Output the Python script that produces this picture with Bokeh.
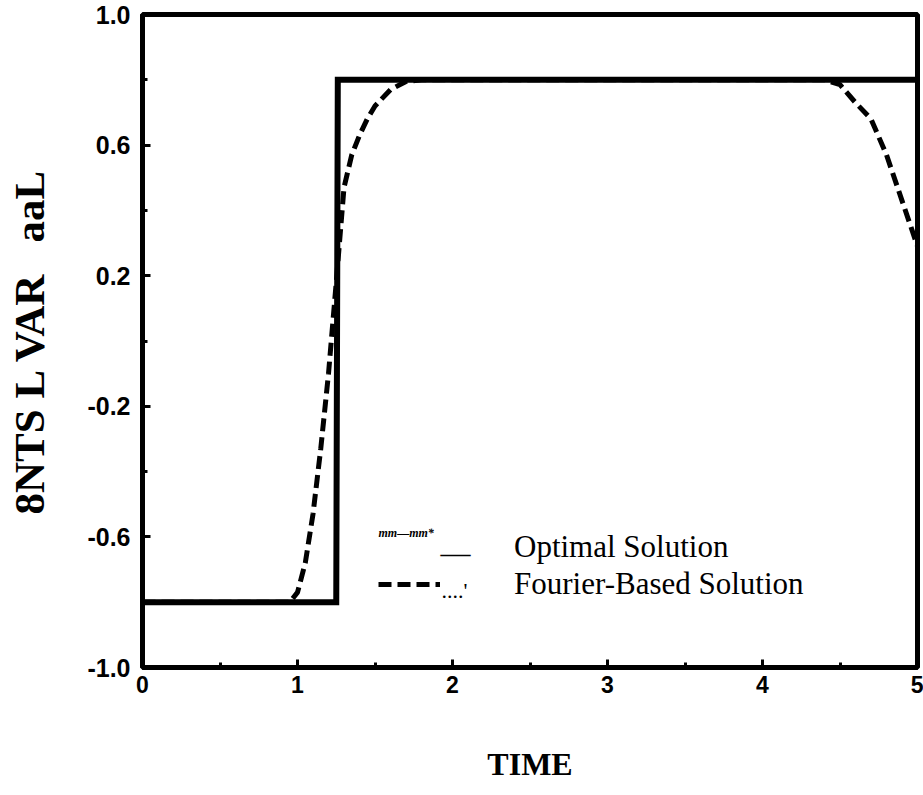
from bokeh.plotting import figure
from bokeh.models import Range1d, FixedTicker, Label, Legend, LegendItem
from bokeh.embed import file_html
from bokeh.resources import INLINE

# ---- data ----
time_optimal = [0.0, 1.25, 1.26, 5.0]
u_optimal = [-0.8, -0.8, 0.8, 0.8]

time_fourier = [0.0, 0.5, 0.95, 1.0, 1.05, 1.1, 1.15, 1.2, 1.25, 1.3, 1.35, 1.4, 1.45, 1.5,
                1.6, 1.7, 1.8, 2.0, 3.0, 4.0, 4.4, 4.5, 4.6, 4.7, 4.8, 4.9, 5.0]
u_fourier = [-0.8, -0.8, -0.8, -0.77, -0.68, -0.53, -0.33, -0.1, 0.18, 0.47, 0.57, 0.63, 0.68, 0.72,
             0.77, 0.795, 0.8, 0.8, 0.8, 0.8, 0.8, 0.785, 0.73, 0.68, 0.57, 0.43, 0.29]

x_ticks = [0, 1, 2, 3, 4, 5]
x_minor = [0.5, 1.5, 2.5, 3.5, 4.5]
y_ticks = [-1.0, -0.6, -0.2, 0.2, 0.6, 1.0]
y_tick_labels = ["-1.0", "-0.6", "-0.2", "0.2", "0.6", "1.0"]
y_minor = [-0.8, -0.4, 0.0, 0.4, 0.8]

series_names = ["Optimal Solution", "Fourier-Based Solution"]
x_title = "TIME"
y_title = "8NTS L VAR\u00a0\u00a0\u00a0aaL"

# ---- figure ----
W, H = 923, 795
BL, BR, BT, BB = 142, 6, 14, 128
p = figure(width=W, height=H, x_range=Range1d(0, 5), y_range=Range1d(-1, 1),
           output_backend="svg", toolbar_location=None,
           min_border_left=BL, min_border_right=BR, min_border_top=BT, min_border_bottom=BB)
p.grid.visible = False
p.background_fill_color = "white"
p.border_fill_color = "white"
p.outline_line_color = "black"
p.outline_line_width = 5

for ax in (p.xaxis[0], p.yaxis[0]):
    ax.axis_line_width = 5
    ax.axis_line_color = "black"
    ax.major_tick_in = 8
    ax.major_tick_out = 0
    ax.minor_tick_in = 5
    ax.minor_tick_out = 0
    ax.major_tick_line_width = 3
    ax.minor_tick_line_width = 3
    ax.major_label_text_font = "Liberation Sans"
    ax.major_label_text_font_style = "bold"
    ax.major_label_text_color = "black"
    ax.axis_label_text_color = "black"

p.xaxis.ticker = FixedTicker(ticks=x_ticks, minor_ticks=x_minor)
p.yaxis.ticker = FixedTicker(ticks=y_ticks, minor_ticks=y_minor)
p.yaxis.major_label_overrides = {v: s for v, s in zip(y_ticks, y_tick_labels)}
p.xaxis.major_label_text_font_size = "23px"
p.yaxis.major_label_text_font_size = "25px"
p.xaxis.major_label_standoff = 8
p.yaxis.major_label_standoff = 12

p.xaxis.axis_label = x_title
p.xaxis.axis_label_text_font = "Liberation Serif"
p.xaxis.axis_label_text_font_style = "bold"
p.xaxis.axis_label_text_font_size = "32px"
p.xaxis.axis_label_standoff = 50

p.yaxis.axis_label = y_title
p.yaxis.axis_label_text_font = "Liberation Serif"
p.yaxis.axis_label_text_font_style = "bold"
p.yaxis.axis_label_text_font_size = "43px"
p.yaxis.axis_label_standoff = 31

# ---- series ----
r_opt = p.line(time_optimal, u_optimal, line_color="black", line_width=6, line_join="miter")
r_four = p.line(time_fourier, u_fourier, line_color="black", line_width=5, line_dash="13 6")

# legend sample for the optimal row is drawn as scanned text, so its glyph is hidden
leg_opt = p.line(x=[], y=[], line_color="black", line_alpha=0.0, line_width=1)

legend = Legend(items=[LegendItem(label=series_names[0], renderers=[leg_opt]),
                       LegendItem(label=series_names[1], renderers=[r_four])],
                location=(236, 65), orientation="vertical",
                label_text_font="Liberation Serif", label_text_font_size="31px",
                label_text_color="black",
                glyph_width=62, glyph_height=30, label_height=30, label_standoff=74,
                spacing=1, padding=0, margin=0,
                border_line_color=None, background_fill_alpha=0.0)
p.add_layout(legend, "center")


def sx(x):
    return x - BL


def sy(y):
    return (H - BB) - y


p.add_layout(Label(x=sx(378), y=sy(532), x_units="screen", y_units="screen", text="mm—mm*",
                   text_font="Liberation Serif", text_font_style="bold italic", text_font_size="12px",
                   text_baseline="middle", text_align="left", text_color="black"))
p.add_layout(Label(x=sx(440), y=sy(552), x_units="screen", y_units="screen", text="—",
                   text_font="Liberation Serif", text_font_size="30px",
                   text_baseline="alphabetic", text_align="left", text_color="black"))
p.add_layout(Label(x=sx(441), y=sy(590), x_units="screen", y_units="screen", text="....'",
                   text_font="Liberation Serif", text_font_size="22px",
                   text_baseline="alphabetic", text_align="left", text_color="black"))

open("out.html", "w").write(file_html(p, INLINE))
